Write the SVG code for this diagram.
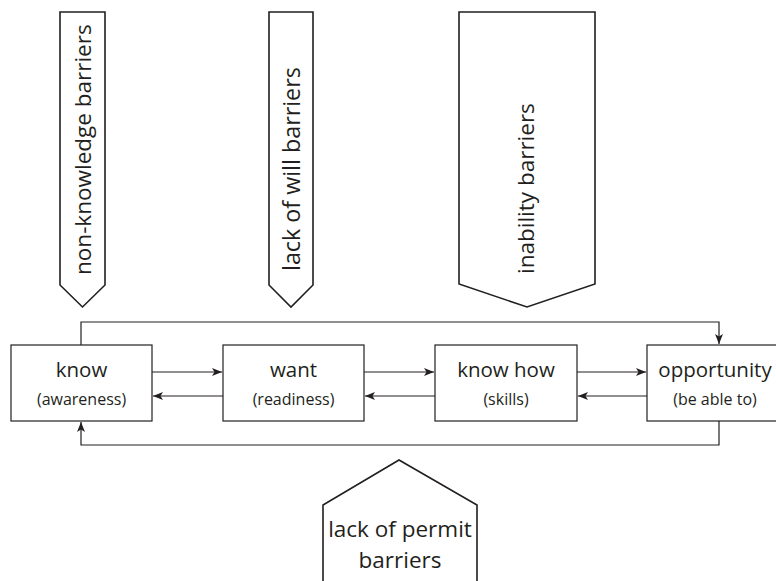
<svg xmlns="http://www.w3.org/2000/svg" width="776" height="581" viewBox="0 0 776 581">
<style>
.shape{fill:#fff;stroke:#231f20;stroke-width:1.6}
.box{fill:#fff;stroke:#231f20;stroke-width:1.2}
.con{fill:none;stroke:#231f20;stroke-width:1.2}
.t{font-family:"Open Sans","Liberation Sans",sans-serif;fill:#231f20}
.big{font-size:20.5px}
.small{font-size:16px}
.vert{font-size:22.5px}
.permit{font-size:22.5px}
</style>
<defs>
<marker id="ah" viewBox="0 0 10 10" refX="10" refY="5" markerWidth="10" markerHeight="10" markerUnits="userSpaceOnUse" orient="auto">
<path d="M0,1 L10,5 L0,9 L2.5,5 Z" fill="#231f20"/>
</marker>
</defs>
<g id="barrier-nonknowledge">
<path class="shape" d="M60,12 H105 V285 L82.5,307 L60,285 Z"/>
<text class="t vert" transform="translate(91,275) rotate(-90)">non-knowledge barriers</text>
</g>
<g id="barrier-will">
<path class="shape" d="M269,12 H313 V285 L291,307 L269,285 Z"/>
<text class="t vert" style="font-size:23.3px" transform="translate(300,271) rotate(-90)">lack of will barriers</text>
</g>
<g id="barrier-inability">
<path class="shape" d="M459,12 H595 V284 L527,307 L459,284 Z"/>
<text class="t vert" transform="translate(534,274) rotate(-90)">inability barriers</text>
</g>
<g id="barrier-permit">
<path class="shape" d="M323,590 V505 L399,460 L477,505 V590"/>
<text class="t permit" x="400" y="537" text-anchor="middle">lack of permit</text>
<text class="t permit" x="400" y="568" text-anchor="middle">barriers</text>
</g>
<g id="node-know">
<rect class="box" x="11" y="345" width="141" height="76"/>
<text class="t big" x="81.5" y="377" text-anchor="middle">know</text>
<text class="t small" x="81.5" y="405" text-anchor="middle">(awareness)</text>
</g>
<g id="node-want">
<rect class="box" x="223" y="345" width="141" height="76"/>
<text class="t big" x="293.5" y="377" text-anchor="middle">want</text>
<text class="t small" x="293.5" y="405" text-anchor="middle">(readiness)</text>
</g>
<g id="node-knowhow">
<rect class="box" x="435" y="345" width="142" height="76"/>
<text class="t big" x="506" y="377" text-anchor="middle">know how</text>
<text class="t small" x="506" y="405" text-anchor="middle">(skills)</text>
</g>
<g id="node-opportunity">
<rect class="box" x="647" y="345" width="136" height="76"/>
<text class="t big" x="715" y="377" text-anchor="middle">opportunity</text>
<text class="t small" x="715" y="405" text-anchor="middle">(be able to)</text>
</g>
<g id="connectors">
<line class="con" x1="152" y1="372" x2="222" y2="372" marker-end="url(#ah)"/>
<line class="con" x1="223" y1="396" x2="153" y2="396" marker-end="url(#ah)"/>
<line class="con" x1="364" y1="372" x2="434" y2="372" marker-end="url(#ah)"/>
<line class="con" x1="435" y1="396" x2="365" y2="396" marker-end="url(#ah)"/>
<line class="con" x1="577" y1="372" x2="646" y2="372" marker-end="url(#ah)"/>
<line class="con" x1="647" y1="396" x2="578" y2="396" marker-end="url(#ah)"/>
<polyline class="con" points="81,345 81,322 719,322 719,344" marker-end="url(#ah)"/>
<polyline class="con" points="719,421 719,445 81,445 81,422" marker-end="url(#ah)"/>
</g>
</svg>
